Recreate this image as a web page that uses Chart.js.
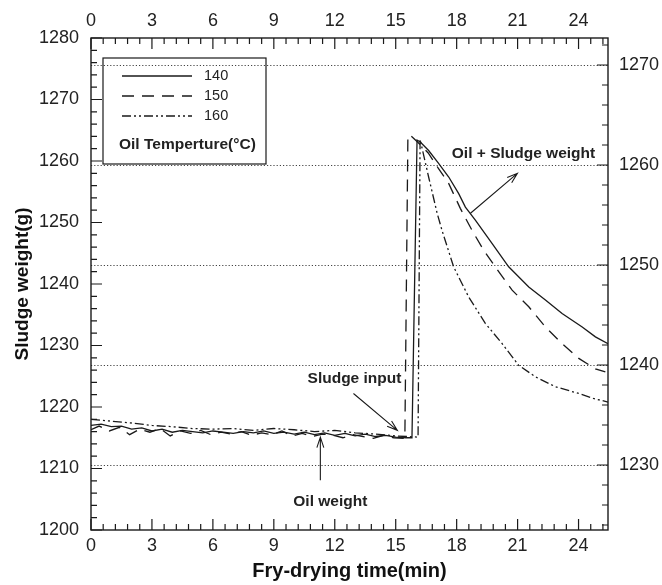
<!DOCTYPE html>
<html>
<head>
<meta charset="utf-8">
<script src="https://cdn.jsdelivr.net/npm/chart.js@4.4.1/dist/chart.umd.min.js"></script>
<style>
  html, body { margin: 0; padding: 0; background: #fff; }
  #wrap { width: 662px; height: 585px; }
</style>
</head>
<body>
<div id="wrap"><canvas id="myChart" width="662" height="585"></canvas></div>
<script>
// fry-drying runs (min, g)
const time140 = [0,0.5,1,1.5,2,2.5,3,3.5,4,4.5,5,5.5,6,6.5,7,7.5,8,8.5,9,9.5,10,10.5,11,11.5,12,12.5,13,13.5,14,14.5,15,15.5,15.8,
  16.05,16.21,16.62,17.11,17.61,18.1,18.43,18.92,19.74,20.56,21.55,22.37,23.19,24.18,24.83,25.45];
const weight140 = [1217.0,1217.2,1216.8,1216.9,1216.4,1216.6,1216.1,1216.4,1215.9,1216.2,1216.0,1215.8,1216.1,1215.9,1215.7,1216.0,1215.8,1216.1,1215.7,1215.9,
  1215.6,1215.9,1215.5,1215.8,1215.4,1215.7,1215.3,1215.6,1215.2,1215.4,1215.1,1215.0,1215.0,
  1263.4,1263.1,1261.7,1259.6,1257.4,1254.7,1252.5,1250.4,1246.6,1242.8,1239.5,1237.4,1235.2,1233.0,1231.4,1230.3];

const time150 = [0,0.4,0.9,1.4,1.9,2.4,2.9,3.4,3.9,4.4,4.9,5.4,5.9,6.4,6.9,7.4,7.9,8.4,8.9,9.4,9.9,10.4,10.9,11.4,11.9,12.4,12.9,13.4,13.9,14.4,14.9,
  15.45,15.6,15.75,16.1,16.6,17.1,17.6,18.18,18.76,19.33,20.07,20.73,21.55,22.37,23.19,24.01,24.83,25.32];
const weight150 = [1216.3,1216.9,1216.1,1216.7,1215.5,1216.4,1215.9,1216.5,1215.3,1216.1,1215.7,1216.2,1215.5,1215.9,1215.6,1216.0,1215.4,1215.8,1215.5,1216.1,
  1215.3,1215.7,1215.2,1215.6,1215.4,1215.0,1215.5,1215.2,1214.9,1215.4,1215.0,
  1214.9,1264.2,1264.1,1263.0,1261.3,1258.8,1256.4,1252.3,1248.7,1245.5,1242.0,1239.0,1236.3,1233.0,1230.3,1227.9,1226.2,1225.7];

const time160 = [0,1,2,3,4,5,6,7,8,9,10,11,12,13,14,15,16.1,
  16.2,16.62,17.04,17.28,17.85,18.59,19.41,20.24,21.05,21.88,22.86,24.01,24.73,25.45];
const weight160 = [1218.0,1217.7,1217.4,1217.0,1216.8,1216.5,1216.4,1216.5,1216.2,1216.5,1216.3,1216.0,1216.2,1215.8,1215.6,1215.3,1215.1,
  1263.5,1257.4,1251.5,1248.7,1242.8,1237.9,1233.6,1230.3,1226.8,1224.9,1223.3,1222.2,1221.4,1220.8];

const seriesNames = ['140', '150', '160'];
const xTicks = [0, 3, 6, 9, 12, 15, 18, 21, 24];
const leftTicks = [1200, 1210, 1220, 1230, 1240, 1250, 1260, 1270, 1280];
const rightTicks = [1230, 1240, 1250, 1260, 1270];
const xMax = 25.45;
const rightMin = 1223.5, rightMax = 1272.7;

// text notes + arrows, in data units (time, left axis)
const notes = [
  { text: 'Oil + Sludge weight', x: 21.29, y: 1261.25 },
  { text: 'Sludge input', x: 12.97, y: 1224.67 },
  { text: 'Oil weight', x: 11.78, y: 1204.67 },
];
const arrows = [
  { from: [18.68, 1251.5], to: [20.99, 1258.0] },
  { from: [12.92, 1222.2], to: [15.08, 1216.2] },
  { from: [11.29, 1208.1], to: [11.29, 1215.1] },
];

const ink = '#1a1a1a';
const fam = '"Liberation Sans", Arial, Helvetica, sans-serif';
Chart.defaults.font.family = fam;
Chart.defaults.color = '#222';

const toPoints = (xs, ys) => xs.map((x, i) => ({ x, y: ys[i] }));
const fixTicks = vals => s => { s.ticks = vals.map(v => ({ value: v })); };
const plain = v => String(v);

const drawArrow = (ctx, x1, y1, x2, y2) => {
  const ang = Math.atan2(y2 - y1, x2 - x1), len = 11, spread = 0.32;
  ctx.beginPath();
  ctx.moveTo(x1, y1); ctx.lineTo(x2, y2);
  ctx.moveTo(x2 - len * Math.cos(ang - spread), y2 - len * Math.sin(ang - spread));
  ctx.lineTo(x2, y2);
  ctx.lineTo(x2 - len * Math.cos(ang + spread), y2 - len * Math.sin(ang + spread));
  ctx.stroke();
};

const decor = {
  id: 'decor',
  beforeDatasetsDraw(chart) {
    const { ctx, chartArea: a } = chart;
    const r = chart.scales.y2;
    ctx.save();
    ctx.strokeStyle = '#444';
    ctx.lineWidth = 1;
    ctx.setLineDash([1.2, 2]);
    rightTicks.forEach(v => {
      const py = Math.round(r.getPixelForValue(v)) + 0.5;
      ctx.beginPath(); ctx.moveTo(a.left, py); ctx.lineTo(a.right, py); ctx.stroke();
    });
    ctx.restore();
  },
  afterDatasetsDraw(chart) {
    const { ctx, chartArea: a, scales } = chart;
    const sx = scales.x, sy = scales.y, sr = scales.y2;
    ctx.save();
    ctx.strokeStyle = ink;
    ctx.lineWidth = 1.4;
    ctx.strokeRect(a.left, a.top, a.right - a.left, a.bottom - a.top);

    // inward ticks on all four sides
    ctx.lineWidth = 1.2;
    ctx.beginPath();
    for (let i = 0; i * 0.6 <= xMax + 1e-6; i++) {
      const v = i * 0.6, major = i % 5 === 0, L = major ? 11 : 6;
      const px = sx.getPixelForValue(v);
      ctx.moveTo(px, a.bottom); ctx.lineTo(px, a.bottom - L);
      ctx.moveTo(px, a.top); ctx.lineTo(px, a.top + L);
    }
    for (let v = 1200; v <= 1280; v += 2) {
      const py = sy.getPixelForValue(v), L = v % 10 === 0 ? 11 : 6;
      ctx.moveTo(a.left, py); ctx.lineTo(a.left + L, py);
    }
    for (let v = 1224; v <= rightMax; v += 2) {
      const py = sr.getPixelForValue(v), L = v % 10 === 0 ? 11 : 6;
      ctx.moveTo(a.right, py); ctx.lineTo(a.right - L, py);
    }
    ctx.stroke();

    // legend box
    const bx = a.left + 12, by = a.top + 20, bw = 163, bh = 106;
    ctx.lineWidth = 1.2;
    ctx.strokeRect(bx, by, bw, bh);
    ctx.fillStyle = '#222';
    ctx.textBaseline = 'middle';
    chart.data.datasets.forEach((ds, i) => {
      const yy = by + 18 + i * 20;
      ctx.save();
      ctx.setLineDash(ds.borderDash || []);
      ctx.lineWidth = ds.borderWidth;
      ctx.beginPath(); ctx.moveTo(bx + 19, yy); ctx.lineTo(bx + 89, yy); ctx.stroke();
      ctx.restore();
      ctx.font = '14.5px ' + fam;
      ctx.textAlign = 'left';
      ctx.fillText(seriesNames[i], bx + 101, yy);
    });
    ctx.font = 'bold 15.5px ' + fam;
    ctx.fillText('Oil Temperture(\u00B0C)', bx + 16, by + 87);

    // notes
    ctx.font = 'bold 15.5px ' + fam;
    ctx.textAlign = 'center';
    notes.forEach(n => ctx.fillText(n.text, sx.getPixelForValue(n.x), sy.getPixelForValue(n.y)));
    ctx.lineWidth = 1.1;
    arrows.forEach(ar => drawArrow(ctx,
      sx.getPixelForValue(ar.from[0]), sy.getPixelForValue(ar.from[1]),
      sx.getPixelForValue(ar.to[0]), sy.getPixelForValue(ar.to[1])));
    ctx.restore();
  }
};

const lineStyle = { borderColor: ink, borderWidth: 1.3, pointRadius: 0, tension: 0, fill: false };
const tickFont = { size: 18 };

const ctx = document.getElementById('myChart').getContext('2d');
new Chart(ctx, {
  type: 'line',
  data: {
    datasets: [
      { label: seriesNames[0], data: toPoints(time140, weight140), ...lineStyle },
      { label: seriesNames[1], data: toPoints(time150, weight150), ...lineStyle, borderDash: [12, 8] },
      { label: seriesNames[2], data: toPoints(time160, weight160), ...lineStyle, borderDash: [9, 3, 2, 3, 2, 3] },
    ]
  },
  options: {
    responsive: false,
    animation: false,
    layout: { padding: 0 },
    plugins: { legend: { display: false }, tooltip: { enabled: false } },
    scales: {
      x: {
        type: 'linear', position: 'bottom', min: 0, max: xMax,
        afterBuildTicks: fixTicks(xTicks),
        afterFit: s => { s.height = 55; },
        grid: { display: false, drawTicks: false },
        border: { display: false },
        ticks: { font: tickFont, padding: 5, maxRotation: 0, autoSkip: false, callback: plain },
        title: { display: true, text: 'Fry-drying time(min)', font: { size: 20, weight: 'bold' }, padding: { top: 0, bottom: 2 }, color: '#111' }
      },
      x2: {
        type: 'linear', position: 'top', min: 0, max: xMax,
        afterBuildTicks: fixTicks(xTicks),
        afterFit: s => { s.height = 38; },
        grid: { display: false, drawTicks: false },
        border: { display: false },
        ticks: { font: tickFont, padding: 6, maxRotation: 0, autoSkip: false, callback: plain }
      },
      y: {
        type: 'linear', position: 'left', min: 1200, max: 1280,
        afterBuildTicks: fixTicks(leftTicks),
        afterFit: s => { s.width = 91; },
        grid: { display: false, drawTicks: false },
        border: { display: false },
        ticks: { font: tickFont, padding: 12, callback: plain },
        title: { display: true, text: 'Sludge weight(g)', font: { size: 19, weight: 'bold' }, padding: { top: 11, bottom: 0 }, color: '#111' }
      },
      y2: {
        type: 'linear', position: 'right', min: rightMin, max: rightMax,
        afterBuildTicks: fixTicks(rightTicks),
        afterFit: s => { s.width = 54; },
        grid: { display: false, drawTicks: false },
        border: { display: false },
        ticks: { font: tickFont, padding: 11, callback: plain }
      }
    }
  },
  plugins: [decor]
});
</script>
</body>
</html>
